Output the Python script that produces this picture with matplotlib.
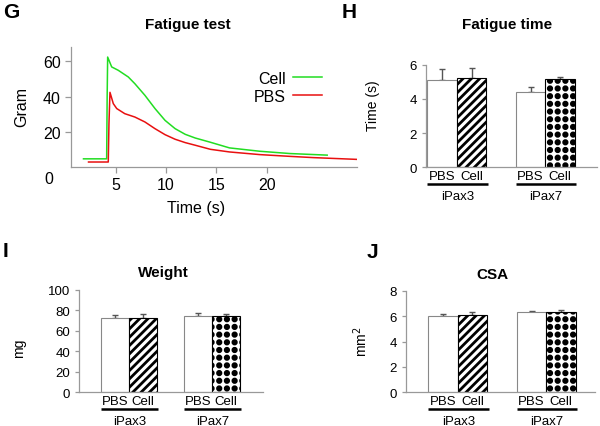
import numpy as np
import matplotlib
matplotlib.use('Agg')
import matplotlib.pyplot as plt
import matplotlib.hatch as mhatch
import matplotlib.transforms as mtransforms
from matplotlib.path import Path
from matplotlib.lines import Line2D

plt.rcParams['font.family'] = ['Liberation Sans', 'DejaVu Sans']
plt.rcParams['hatch.linewidth'] = 2.0

# ---------------- data ----------------
cell_time = [1.8, 4.1, 4.15, 4.2, 4.6, 5.25, 6.25, 6.9, 7.9, 8.9, 9.9, 10.9, 11.9,
             12.9, 14.4, 16.3, 19.3, 22.3, 26.0]
cell_gram = [4.8, 4.8, 40.0, 62.5, 56.9, 55.0, 51.2, 47.4, 40.8, 33.3, 26.6, 21.9, 18.7,
             16.6, 14.2, 11.0, 9.1, 7.8, 6.9]
pbs_time = [2.3, 4.26, 4.33, 4.43, 4.76, 5.1, 5.9, 6.9, 7.9, 8.9, 9.9, 10.9, 11.9,
            12.9, 14.4, 16.3, 19.3, 22.3, 24.6, 28.9]
pbs_gram = [3.0, 3.0, 25.0, 42.5, 36.1, 33.3, 30.4, 28.5, 25.7, 21.9, 18.5, 15.9, 14.0,
            12.5, 10.2, 8.7, 7.2, 6.2, 5.5, 4.5]

groups = ['iPax3', 'iPax7']
conditions = ['PBS', 'Cell']
fatigue_time = [5.1, 5.25, 4.4, 5.15]
fatigue_time_err = [0.63, 0.53, 0.32, 0.15]
weight = [72.5, 73.0, 75.0, 75.0]
weight_err = [3.5, 4.0, 2.5, 1.5]
csa = [6.0, 6.1, 6.3, 6.3]
csa_err = [0.15, 0.2, 0.12, 0.15]


# ---------------- custom dotted hatch ('*') ----------------
class GridDots(mhatch.HatchPatternBase):
    def __init__(self, hatch, density):
        self.n = 13 if '*' in hatch else 0
        self.r = 0.017
        self.circ = Path.unit_circle()
        self.num_vertices = self.n * self.n * len(self.circ.vertices)

    def set_vertices_and_codes(self, vertices, codes):
        cv = self.circ.vertices * self.r
        cc = self.circ.codes
        k = len(cv)
        idx = 0
        for i in range(self.n):
            for j in range(self.n):
                c = np.array([(i + 0.5) / self.n, (j + 0.5) / self.n])
                vertices[idx:idx + k] = cv + c
                codes[idx:idx + k] = cc
                idx += k


mhatch._hatch_types = [t for t in mhatch._hatch_types if t is not mhatch.Stars] + [GridDots]

W, H = 600, 427
fig = plt.figure(figsize=(W / 100, H / 100), dpi=100)

SPINE = '#999999'


def ax_px(left, top, right, bottom):
    return fig.add_axes([left / W, 1 - bottom / H, (right - left) / W, (bottom - top) / H])


def style_axes(ax, labelsize):
    for s in ['top', 'right']:
        ax.spines[s].set_visible(False)
    for s in ['left', 'bottom']:
        ax.spines[s].set_color(SPINE)
        ax.spines[s].set_linewidth(0.9)
    ax.tick_params(colors=SPINE, labelcolor='black', length=3, width=0.9,
                   labelsize=labelsize, direction='out')


def fig_text(x, y, s, **kw):
    fig.text(x / W, 1 - y / H, s, **kw)


# ---------------- G: fatigue test ----------------
axG = ax_px(70.7, 48, 356.7, 168.3)
style_axes(axG, 11.5)
axG.plot(cell_time, cell_gram, color='#22dd22', lw=1.1, label='Cell')
axG.plot(pbs_time, pbs_gram, color='#e81010', lw=1.1, label='PBS')
axG.set_xlim(0.53, 28.93)
axG.set_ylim(0, 68.2)
axG.set_xticks([5, 10, 15, 20])
axG.set_yticks([20, 40, 60])
axG.tick_params(axis='both', length=4, pad=3)
axG.text(-0.06, -0.09, '0', transform=axG.transAxes, fontsize=11.5,
         ha='right', va='center')
axG.set_xlabel('Time (s)', fontsize=11.5)
axG.xaxis.set_label_coords(0.44, -0.27)
axG.set_ylabel('Gram', fontsize=11.5)
axG.yaxis.set_label_coords(-0.145, 0.51)
leg = axG.legend(markerfirst=False, frameon=False, fontsize=11.5, loc='upper left',
                 bbox_to_anchor=(0.60, 0.895), handlelength=1.8, handletextpad=0.5,
                 labelspacing=0.2, borderpad=0.2)
fig_text(188, 25, 'Fatigue test', fontsize=11, fontweight='bold', ha='center', va='center')
fig_text(3, 13, 'G', fontsize=15, fontweight='bold', ha='left', va='center')


# ---------------- bar panels ----------------
def bar_panel(ax, vals, errs, ylim, yticks, xlim, ylabel, ylabel_xy, labelsize):
    style_axes(ax, labelsize)
    pos = [0, 1, 3, 4]
    hatches = ['', '////', '', '*']
    edges = ['#888888', 'black', '#888888', 'black']
    for p, v, h, ec in zip(pos, vals, hatches, edges):
        ax.bar(p, v, width=1.0, color='white', edgecolor=ec, hatch=h, linewidth=0.8,
               zorder=2)
    ax.errorbar(pos, vals, yerr=[np.zeros(len(errs)), errs], fmt='none',
                ecolor='#555555', elinewidth=1.0, capsize=2.2, capthick=1.0, zorder=1)
    ax.set_xlim(*xlim)
    ax.set_ylim(*ylim)
    ax.set_yticks(yticks)
    ax.set_xticks([])
    ax.spines['left'].set_bounds(ylim[0], yticks[-1])
    ax.set_ylabel(ylabel, fontsize=10)
    ax.yaxis.set_label_coords(*ylabel_xy)
    blend = mtransforms.blended_transform_factory(ax.transData, ax.transAxes)
    for gi, g in enumerate(groups):
        for ci, c in enumerate(conditions):
            p = pos[gi * 2 + ci]
            ax.annotate(c, xy=(p, 0), xycoords=blend, xytext=(0, -9 * 0.72),
                        textcoords='offset points', ha='center', va='center',
                        fontsize=9.5)
        x0 = pos[gi * 2] - 0.5
        x1 = pos[gi * 2 + 1] + 0.55
        tr = blend + mtransforms.ScaledTranslation(0, -17 / 100, fig.dpi_scale_trans)
        ax.add_line(Line2D([x0, x1], [0, 0], transform=tr, color='black', lw=1.8,
                           clip_on=False, solid_capstyle='butt'))
        ax.annotate(g, xy=((x0 + x1) / 2, 0), xycoords=blend, xytext=(0, -28.5 * 0.72),
                    textcoords='offset points', ha='center', va='center', fontsize=9.5)


axH = ax_px(426, 65.7, 596.7, 168.3)
bar_panel(axH, fatigue_time, fatigue_time_err, (0, 6.0), [0, 2, 4, 6], (-0.55, 5.24),
          'Time (s)', (-0.27, 0.61), 9.5)
fig_text(506.7, 25, 'Fatigue time', fontsize=11, fontweight='bold', ha='center', va='center')
fig_text(342, 12, 'H', fontsize=15, fontweight='bold', ha='left', va='center')

axI = ax_px(79, 291, 263.3, 393.3)
bar_panel(axI, weight, weight_err, (0, 100), [0, 20, 40, 60, 80, 100], (-1.29, 5.34),
          'mg', (-0.29, 0.44), 9.5)
fig_text(163, 272.7, 'Weight', fontsize=11, fontweight='bold', ha='center', va='center')
fig_text(3, 251.5, 'I', fontsize=15, fontweight='bold', ha='left', va='center')

axJ = ax_px(406, 291.7, 595, 393.3)
bar_panel(axJ, csa, csa_err, (0, 8), [0, 2, 4, 6, 8], (-1.25, 5.15),
          'mm$^2$', (-0.19, 0.51), 9.5)
fig_text(492.7, 275, 'CSA', fontsize=11, fontweight='bold', ha='center', va='center')
fig_text(367, 252, 'J', fontsize=15, fontweight='bold', ha='left', va='center')

fig.savefig('out.png', dpi=100)
